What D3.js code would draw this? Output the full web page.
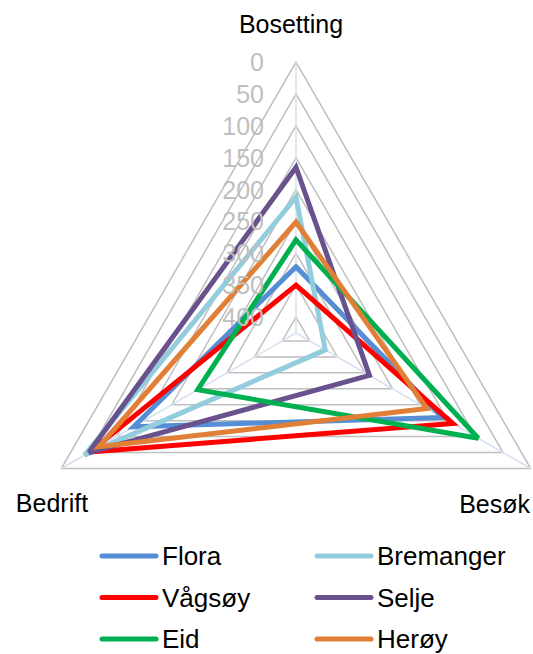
<!DOCTYPE html>
<html>
<head>
<meta charset="utf-8">
<script src="https://cdn.jsdelivr.net/npm/d3@7"></script>
<style>
  body { margin: 0; background: #fff; }
  text { font-family: "Liberation Sans", Arial, sans-serif; }
</style>
</head>
<body>
<div id="chart"></div>
<script>
// Radar chart - reversed value axis (0 outside, 400 near centre)
const categories = ["Bosetting", "Besøk", "Bedrift"];
const seriesNames = ["Flora", "Bremanger", "Vågsøy", "Selje", "Eid", "Herøy"];
const flora = [321, 160, 131];
const bremanger = [212, 372, 42];
const vagsoy = [350, 141, 52];
const selje = [165, 292, 50];
const eid = [279, 95, 247];
const heroy = [251, 188, 68];
const tickValues = [0, 50, 100, 150, 200, 250, 300, 350, 400];
const axisMax = 425;

const seriesValues = [flora, bremanger, vagsoy, selje, eid, heroy];
const colors = ["#558ed5", "#93cddd", "#ff0000", "#68518c", "#00b050", "#e07f35"];

const width = 533;
const height = 654;
const cx = 296, cy = 333, R = 271;

const svg = d3.select("#chart").append("svg")
    .attr("width", width)
    .attr("height", height);

// reversed radial scale
const r = d3.scaleLinear().domain([0, axisMax]).range([R, 0]);

const angle = i => -Math.PI / 2 + i * 2 * Math.PI / categories.length;
const point = (v, i) => [cx + r(v) * Math.cos(angle(i)), cy + r(v) * Math.sin(angle(i))];

const line = d3.line().curve(d3.curveLinearClosed);

// rings
svg.append("g").selectAll("path")
    .data(tickValues)
    .join("path")
    .attr("d", t => line(categories.map((c, i) => point(t, i))))
    .attr("fill", "none")
    .attr("stroke", "#bfbfbf")
    .attr("stroke-width", 1.5);

// spokes
svg.append("g").selectAll("line")
    .data(categories)
    .join("line")
    .attr("x1", cx).attr("y1", cy)
    .attr("x2", (c, i) => point(0, i)[0])
    .attr("y2", (c, i) => point(0, i)[1])
    .attr("stroke", "#d6e0f0")
    .attr("stroke-width", 1.5);

// series
svg.append("g").selectAll("path")
    .data(seriesValues)
    .join("path")
    .attr("d", vals => line(vals.map((v, i) => point(v, i))))
    .attr("fill", "none")
    .attr("stroke", (d, k) => colors[k])
    .attr("stroke-width", 5)
    .attr("stroke-linejoin", "miter")
    .attr("stroke-miterlimit", 3);

// tick labels
svg.append("g").selectAll("text")
    .data(tickValues)
    .join("text")
    .attr("x", cx - 32)
    .attr("y", t => r(t) * -1 + cy)
    .attr("dy", "0.36em")
    .attr("text-anchor", "end")
    .attr("font-size", "25px")
    .attr("fill", "#bfbfbf")
    .text(t => t);

// category labels
const catPos = [
    { x: 291, y: 33, anchor: "middle" },
    { x: 530, y: 513, anchor: "end" },
    { x: 52, y: 512, anchor: "middle" }
];
svg.append("g").selectAll("text")
    .data(categories)
    .join("text")
    .attr("x", (c, i) => catPos[i].x)
    .attr("y", (c, i) => catPos[i].y)
    .attr("text-anchor", (c, i) => catPos[i].anchor)
    .attr("font-size", "25px")
    .attr("fill", "#000")
    .text(c => c);

// legend
const legend = svg.append("g").selectAll("g")
    .data(seriesNames)
    .join("g")
    .attr("transform", (d, k) => `translate(${k % 2 === 0 ? 102 : 317}, ${556 + Math.floor(k / 2) * 41.5})`);

legend.append("line")
    .attr("x1", 0).attr("x2", 54)
    .attr("stroke", (d, k) => colors[k])
    .attr("stroke-width", 5)
    .attr("stroke-linecap", "round");

legend.append("text")
    .attr("x", 60)
    .attr("dy", "0.36em")
    .attr("font-size", "26px")
    .attr("fill", "#000")
    .text(d => d);
</script>
</body>
</html>
